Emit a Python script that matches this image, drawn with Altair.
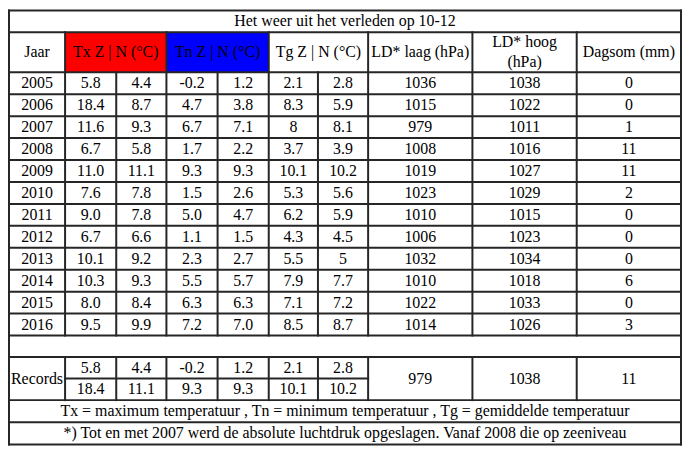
import altair as alt
import numpy as np
import pandas as pd

# ---------------- data ----------------
TITLE = "Het weer uit het verleden op 10-12"
HEADERS = ["Jaar", "Tx Z | N (°C)", "Tn Z | N (°C)", "Tg Z | N (°C)",
           "LD* laag (hPa)", "LD* hoog\n(hPa)", "Dagsom (mm)"]
YEARS = [2005, 2006, 2007, 2008, 2009, 2010, 2011, 2012, 2013, 2014, 2015, 2016]
TX_Z = [5.8, 18.4, 11.6, 6.7, 11.0, 7.6, 9.0, 6.7, 10.1, 10.3, 8.0, 9.5]
TX_N = [4.4, 8.7, 9.3, 5.8, 11.1, 7.8, 7.8, 6.6, 9.2, 9.3, 8.4, 9.9]
TN_Z = [-0.2, 4.7, 6.7, 1.7, 9.3, 1.5, 5.0, 1.1, 2.3, 5.5, 6.3, 7.2]
TN_N = [1.2, 3.8, 7.1, 2.2, 9.3, 2.6, 4.7, 1.5, 2.7, 5.7, 6.3, 7.0]
TG_Z = [2.1, 8.3, 8, 3.7, 10.1, 5.3, 6.2, 4.3, 5.5, 7.9, 7.1, 8.5]
TG_N = [2.8, 5.9, 8.1, 3.9, 10.2, 5.6, 5.9, 4.5, 5, 7.7, 7.2, 8.7]
LD_LAAG = [1036, 1015, 979, 1008, 1019, 1023, 1010, 1006, 1032, 1010, 1022, 1014]
LD_HOOG = [1038, 1022, 1011, 1016, 1027, 1029, 1015, 1023, 1034, 1018, 1033, 1026]
DAGSOM = [0, 0, 1, 11, 11, 2, 0, 0, 0, 6, 0, 3]

RECORD_LABEL = "Records"
RECORD_LOW = [5.8, 4.4, -0.2, 1.2, 2.1, 2.8]
RECORD_HIGH = [18.4, 11.1, 9.3, 9.3, 10.1, 10.2]
RECORD_OTHER = [979, 1038, 11]
LEGEND = "Tx = maximum temperatuur , Tn = minimum temperatuur , Tg = gemiddelde temperatuur"
FOOTNOTE = "*) Tot en met 2007 werd de absolute luchtdruk opgeslagen. Vanaf 2008 die op zeeniveau"

# ---------------- layout (table geometry) ----------------
COL_W = [57, 52, 51, 52, 52, 50, 51, 106, 106, 106]
TITLE_H, HEAD_H, ROW_H, GAP_H, REC_H, NOTE_H = 22, 41, 22.4, 22, 22, 22.6
LINE_H = 20
HEADER_SPANS = [(0, 1), (1, 3), (3, 5), (5, 7), (7, 8), (8, 9), (9, 10)]
HEADER_FILL = {1: "#ff0000", 2: "#0000ff"}
LINE_COLOR = "#262626"
FONT = "'Liberation Serif', 'Times New Roman', Times, serif"

cx = np.concatenate([[0], np.cumsum(COL_W)])
W = float(cx[-1])
y_title0 = 0.0
y_head0 = y_title0 + TITLE_H
y_data0 = y_head0 + HEAD_H
y_data = [y_data0 + ROW_H * k for k in range(len(YEARS) + 1)]
y_gap1 = y_data[-1] + GAP_H
y_recm = y_gap1 + REC_H
y_rec1 = y_recm + REC_H
y_leg1 = y_rec1 + NOTE_H
y_foot1 = y_leg1 + NOTE_H
H = y_foot1

def ccol(i):
    return (cx[i] + cx[i + 1]) / 2

# ---------------- build tables ----------------
texts = []
texts.append(dict(x=W / 2, y=(y_title0 + y_head0) / 2, text=TITLE))
for (a, b), h in zip(HEADER_SPANS, HEADERS):
    n_lines = h.count("\n") + 1
    yc = (y_head0 + y_data0) / 2 - (n_lines - 1) * LINE_H / 2
    texts.append(dict(x=(cx[a] + cx[b]) / 2, y=yc, text=h))
cols = [YEARS, TX_Z, TX_N, TN_Z, TN_N, TG_Z, TG_N, LD_LAAG, LD_HOOG, DAGSOM]
for r in range(len(YEARS)):
    yc = (y_data[r] + y_data[r + 1]) / 2
    for c, series in enumerate(cols):
        texts.append(dict(x=ccol(c), y=yc, text=str(series[r])))
texts.append(dict(x=ccol(0), y=(y_gap1 + y_rec1) / 2, text=RECORD_LABEL))
for i, v in enumerate(RECORD_LOW):
    texts.append(dict(x=ccol(i + 1), y=(y_gap1 + y_recm) / 2, text=str(v)))
for i, v in enumerate(RECORD_HIGH):
    texts.append(dict(x=ccol(i + 1), y=(y_recm + y_rec1) / 2, text=str(v)))
for i, v in enumerate(RECORD_OTHER):
    texts.append(dict(x=ccol(i + 7), y=(y_gap1 + y_rec1) / 2, text=str(v)))
texts.append(dict(x=W / 2, y=(y_rec1 + y_leg1) / 2, text=LEGEND))
texts.append(dict(x=W / 2, y=(y_leg1 + y_foot1) / 2, text=FOOTNOTE))
text_df = pd.DataFrame(texts)

fills = []
for k, col in HEADER_FILL.items():
    a, b = HEADER_SPANS[k]
    fills.append(dict(x=cx[a], x2=cx[b], y=y_head0, y2=y_data0, fill=col))
fill_df = pd.DataFrame(fills)

rules = []
def hline(y, x0=0.0, x1=W):
    rules.append(dict(x=x0, x2=x1, y=y, y2=y))
def vline(x, y0, y1):
    rules.append(dict(x=x, x2=x, y=y0, y2=y1))

for y in [y_title0, y_head0] + y_data + [y_gap1, y_rec1, y_leg1, y_foot1]:
    hline(y)
hline(y_recm, cx[1], cx[7])
vline(0, 0, H)
vline(W, 0, H)
header_edges = {cx[a] for a, b in HEADER_SPANS[1:]}
for i in range(1, len(cx) - 1):
    top = y_head0 if cx[i] in header_edges else y_data0
    vline(cx[i], top, y_data[-1])
    vline(cx[i], y_gap1, y_rec1)
rule_df = pd.DataFrame(rules)

# ---------------- chart ----------------
XS = alt.Scale(domain=[0, W], nice=False, zero=False)
YS = alt.Scale(domain=[0, H], nice=False, zero=False, reverse=True)

rect = alt.Chart(fill_df).mark_rect().encode(
    x=alt.X("x:Q", scale=XS, axis=None), x2="x2:Q",
    y=alt.Y("y:Q", scale=YS, axis=None), y2="y2:Q",
    color=alt.Color("fill:N", scale=None),
)
lines = alt.Chart(rule_df).mark_rule(color=LINE_COLOR, strokeWidth=2, strokeCap="square").encode(
    x=alt.X("x:Q", scale=XS, axis=None), x2="x2:Q",
    y=alt.Y("y:Q", scale=YS, axis=None), y2="y2:Q",
)
labels = alt.Chart(text_df).mark_text(
    font=FONT, fontSize=16, color="#000000",
    align="center", baseline="middle", lineBreak="\n", lineHeight=LINE_H,
).encode(
    x=alt.X("x:Q", scale=XS, axis=None),
    y=alt.Y("y:Q", scale=YS, axis=None),
    text="text:N",
)

chart = alt.layer(rect, lines, labels).properties(
    width=677, height=437,
    padding={"left": 1, "top": 1, "right": 1, "bottom": 1},
    autosize=alt.AutoSizeParams(type="none"),
    background="white",
).configure_view(stroke=None)

chart.save("out.html", embed_options={"renderer": "svg", "actions": False})
